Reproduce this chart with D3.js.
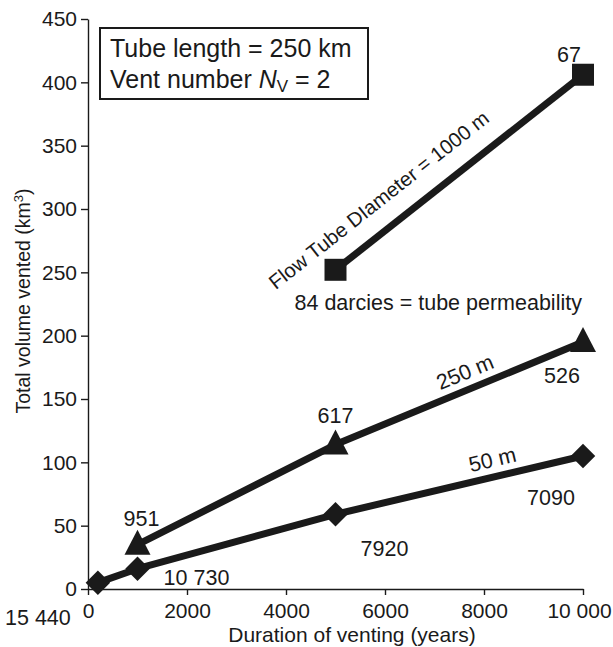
<!DOCTYPE html>
<html>
<head>
<meta charset="utf-8">
<script src="https://cdn.jsdelivr.net/npm/d3@7"></script>
<style>
  html, body { margin: 0; padding: 0; background: #fff; }
  svg { display: block; font-family: "Liberation Sans", Arial, Helvetica, sans-serif; }
  .axis path, .axis line { stroke: #1a1a1a; stroke-width: 1.4; }
  .axis text { font-size: 21px; fill: #1a1a1a; }
  .series { fill: none; stroke: #1a1a1a; stroke-width: 7; stroke-linejoin: round; }
  .marker { fill: #1a1a1a; }
  .note { font-size: 21.5px; fill: #1a1a1a; }
</style>
</head>
<body>
<svg id="chart" width="613" height="647"></svg>
<script>
// duration of venting (years) and total volume vented (km3) per tube diameter
const durations1000 = [5000, 10000];
const volumes1000 = [252, 406];
const labels1000 = ["84 darcies = tube permeability", "67"];

const durations250 = [1000, 5000, 10000];
const volumes250 = [35, 114, 195];
const labels250 = ["951", "617", "526"];

const durations50 = [200, 1000, 5000, 10000];
const volumes50 = [5, 16, 59, 105];
const labels50 = ["15 440", "10 730", "7920", "7090"];

const xTicks = [0, 2000, 4000, 6000, 8000, 10000];
const yTicks = [0, 50, 100, 150, 200, 250, 300, 350, 400, 450];

const svg = d3.select("#chart");

const x = d3.scaleLinear().domain([0, 10000]).range([88, 583]);
const y = d3.scaleLinear().domain([0, 450]).range([589, 19]);

const xAxis = svg.append("g")
  .attr("class", "axis")
  .attr("transform", "translate(0,589)")
  .call(d3.axisBottom(x)
    .tickValues(xTicks)
    .tickSize(6)
    .tickSizeOuter(0)
    .tickPadding(8)
    .tickFormat((d) => d >= 10000 ? d3.format(",")(d).replace(",", " ") : String(d)));
// the last label sits slightly inside the frame in the original
xAxis.selectAll(".tick text").filter((d) => d === 10000).attr("dx", -4);

svg.append("g")
  .attr("class", "axis")
  .attr("transform", "translate(88,0)")
  .call(d3.axisLeft(y)
    .tickValues(yTicks)
    .tickSize(7)
    .tickSizeOuter(0)
    .tickPadding(4));

// axis titles
svg.append("text")
  .attr("class", "note")
  .attr("x", 352)
  .attr("y", 642)
  .attr("text-anchor", "middle")
  .style("font-size", "21px")
  .text("Duration of venting (years)");

const yTitle = svg.append("text")
  .attr("class", "note")
  .attr("transform", "translate(30,301) rotate(-90)")
  .attr("text-anchor", "middle")
  .style("font-size", "19.5px");
yTitle.append("tspan").text("Total volume vented (km");
yTitle.append("tspan").attr("baseline-shift", "super").style("font-size", "13px").text("3");
yTitle.append("tspan").text(")");

// legend box
svg.append("rect")
  .attr("x", 100).attr("y", 28)
  .attr("width", 268).attr("height", 71)
  .attr("fill", "#fff")
  .attr("stroke", "#1a1a1a")
  .attr("stroke-width", 2);

svg.append("text")
  .attr("class", "note")
  .attr("x", 110).attr("y", 57)
  .style("font-size", "25px")
  .text("Tube length = 250 km");

const vent = svg.append("text")
  .attr("class", "note")
  .attr("x", 110).attr("y", 88)
  .style("font-size", "25px");
vent.append("tspan").text("Vent number ");
vent.append("tspan").style("font-style", "italic").text("N");
vent.append("tspan").attr("baseline-shift", "-25%").style("font-size", "17px").text("V");
vent.append("tspan").text(" = 2");

const series = [
  {
    xs: durations1000, ys: volumes1000, labels: labels1000, shape: "square",
    offsets: [[-41, 40, "start"], [-14, -13, "middle"]],
    name: "Flow Tube DIameter = 1000 m", seg: 0, t: 0.245, lift: 28, size: 20.3
  },
  {
    xs: durations250, ys: volumes250, labels: labels250, shape: "triangle",
    offsets: [[4, -19, "middle"], [0, -22, "middle"], [-21, 41, "middle"]],
    name: "250 m", seg: 1, t: 0.55, lift: 17, size: 21.5
  },
  {
    xs: durations50, ys: volumes50, labels: labels50, shape: "diamond",
    offsets: [[-60, 42, "middle"], [59, 16, "middle"], [49, 42, "middle"], [-32, 49, "middle"]],
    name: "50 m", seg: 2, t: 0.65, lift: 17, size: 21.5
  }
];

const line = d3.line().x((d) => x(d[0])).y((d) => y(d[1]));

function markerPath(shape) {
  if (shape === "square") return d3.symbol(d3.symbolSquare, 484)();
  if (shape === "diamond") return d3.symbol(d3.symbolSquare, 300)();
  return "M0,-15L13,10L-13,10Z";
}

for (const s of series) {
  const pts = s.xs.map((v, i) => [v, s.ys[i]]);

  svg.append("path")
    .datum(pts)
    .attr("class", "series")
    .attr("d", line);

  svg.selectAll(null)
    .data(pts)
    .join("path")
    .attr("class", "marker")
    .attr("d", markerPath(s.shape))
    .attr("transform", (d) => `translate(${x(d[0])},${y(d[1])})` + (s.shape === "diamond" ? " rotate(45)" : ""));

  svg.selectAll(null)
    .data(pts)
    .join("text")
    .attr("class", "note")
    .attr("x", (d, i) => x(d[0]) + s.offsets[i][0])
    .attr("y", (d, i) => y(d[1]) + s.offsets[i][1])
    .attr("text-anchor", (d, i) => s.offsets[i][2])
    .text((d, i) => s.labels[i]);

  // series name written along its segment
  const a = pts[s.seg === 0 ? 0 : pts.length - 2];
  const b = pts[s.seg === 0 ? 1 : pts.length - 1];
  const ax = x(a[0]), ay = y(a[1]), bx = x(b[0]), by = y(b[1]);
  const len = Math.hypot(bx - ax, by - ay);
  const ux = (bx - ax) / len, uy = (by - ay) / len;
  const cx = ax + ux * len * s.t + uy * s.lift;
  const cy = ay + uy * len * s.t - ux * s.lift;
  const angle = Math.atan2(by - ay, bx - ax) * 180 / Math.PI;

  svg.append("text")
    .attr("class", "note")
    .attr("transform", `translate(${cx},${cy}) rotate(${angle})`)
    .attr("text-anchor", "middle")
    .attr("dominant-baseline", "central")
    .style("font-size", `${s.size}px`)
    .text(s.name);
}
</script>
</body>
</html>
